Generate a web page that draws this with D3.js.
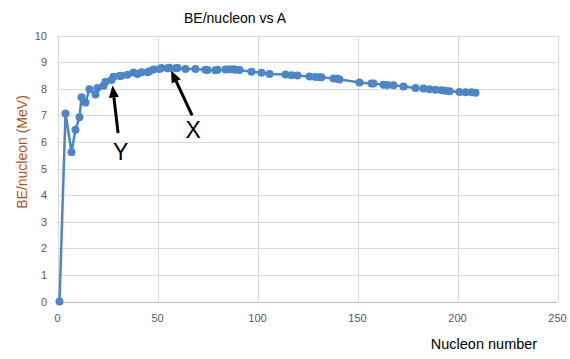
<!DOCTYPE html>
<html>
<head>
<meta charset="utf-8">
<script src="https://cdn.jsdelivr.net/npm/d3@7"></script>
<style>
	body { margin: 0; background: #fff; }
	text { font-family: "Liberation Sans", Arial, sans-serif; }
</style>
</head>
<body>
<div id="chart"></div>
<script>
"use strict";

// nucleon number A and binding energy per nucleon (MeV)
var nucleons = [1,4,7,9,11,12,14,16,19,20,23,24,27,28,31,32,35,38,40,42,45,46,48,51,52,55,56,59,60,64,
	69,74,75,79,80,84,86,88,89,91,97,102,106,114,117,120,126,129,131,132,138,140,141,151,157,158,163,165,168,173,
	179,183,186,189,192,194,196,201,204,207,209];
var bePerNucleon = [0,7.07,5.61,6.46,6.93,7.68,7.48,7.98,7.78,8.03,8.11,8.26,8.33,8.45,8.48,8.49,8.52,8.61,8.55,8.62,
	8.62,8.66,8.72,8.74,8.78,8.77,8.79,8.77,8.78,8.74,8.74,8.71,8.70,8.69,8.71,8.72,8.73,8.73,8.71,8.70,
	8.64,8.60,8.55,8.53,8.51,8.50,8.46,8.44,8.43,8.43,8.38,8.37,8.35,8.23,8.20,8.20,8.15,8.14,8.13,8.08,
	8.03,8.01,7.98,7.96,7.94,7.92,7.90,7.88,7.87,7.87,7.85];
var xTicks = [0,50,100,150,200,250];
var yTicks = [0,1,2,3,4,5,6,7,8,9,10];

// annotation arrows, in data units: [tailA, tailBE, tipA, tipBE]
var arrowX = [67.3, 7.0, 56.8, 8.68];
var arrowY = [30.3, 6.33, 27.5, 8.12];
var labelX = [67.8, 6.45];
var labelY = [31.6, 5.62];

var width = 570, height = 359;
var svg = d3.select("#chart").append("svg")
	.attr("width", width).attr("height", height);

var x = d3.scaleLinear().domain([0, 250]).range([57.5, 557.5]);
var y = d3.scaleLinear().domain([0, 10]).range([301.5, 35.5]);

// grid
svg.append("g").selectAll("line").data(yTicks).enter().append("line")
	.attr("x1", x(0)).attr("x2", x(250))
	.attr("y1", function(d) { return Math.round(y(d)) + 0.5; })
	.attr("y2", function(d) { return Math.round(y(d)) + 0.5; })
	.attr("stroke", function(d) { return d === 0 ? "#bfbfbf" : "#d9d9d9"; })
	.attr("stroke-width", 1);
svg.append("g").selectAll("line").data(xTicks).enter().append("line")
	.attr("y1", y(0)).attr("y2", y(10))
	.attr("x1", function(d) { return Math.round(x(d)) + 0.5; })
	.attr("x2", function(d) { return Math.round(x(d)) + 0.5; })
	.attr("stroke", "#d9d9d9").attr("stroke-width", 1);

// tick labels
svg.append("g").selectAll("text").data(yTicks).enter().append("text")
	.attr("x", 47).attr("y", function(d) { return y(d) + 4; })
	.attr("text-anchor", "end").attr("font-size", "11px").attr("fill", "#595959")
	.text(function(d) { return d; });
svg.append("g").selectAll("text").data(xTicks).enter().append("text")
	.attr("x", function(d) { return x(d); }).attr("y", 322)
	.attr("text-anchor", "middle").attr("font-size", "11px").attr("fill", "#595959")
	.text(function(d) { return d; });

// titles
svg.append("text").attr("x", 235).attr("y", 23).attr("text-anchor", "middle")
	.attr("font-size", "14px").attr("fill", "#000").text("BE/nucleon vs A");
svg.append("text").attr("x", 484).attr("y", 349).attr("text-anchor", "middle")
	.attr("font-size", "14.5px").attr("fill", "#000").text("Nucleon number");
svg.append("text").attr("transform", "translate(27,152) rotate(-90)")
	.attr("text-anchor", "middle").attr("font-size", "14px").attr("fill", "#a8561c")
	.text("BE/nucleon (MeV)");

// series
var pts = nucleons.map(function(a, i) { return [a, bePerNucleon[i]]; });
var color = "#4a86c8";
svg.append("path").datum(pts)
	.attr("fill", "none").attr("stroke", color).attr("stroke-width", 2.5)
	.attr("d", d3.line().x(function(d) { return x(d[0]); }).y(function(d) { return y(d[1]); }));
svg.append("g").selectAll("circle").data(pts).enter().append("circle")
	.attr("cx", function(d) { return x(d[0]); })
	.attr("cy", function(d) { return y(d[1]); })
	.attr("r", 4).attr("fill", color);

// arrows
function drawArrow(a) {
	var x1 = x(a[0]), y1 = y(a[1]), x2 = x(a[2]), y2 = y(a[3]);
	var ang = Math.atan2(y2 - y1, x2 - x1);
	var len = 12, half = 5;
	var bx = x2 - len * Math.cos(ang), by = y2 - len * Math.sin(ang);
	svg.append("line").attr("x1", x1).attr("y1", y1).attr("x2", bx).attr("y2", by)
		.attr("stroke", "#000").attr("stroke-width", 3);
	svg.append("path")
		.attr("d", "M" + x2 + "," + y2 +
			"L" + (bx + half * Math.sin(ang)) + "," + (by - half * Math.cos(ang)) +
			"L" + (bx - half * Math.sin(ang)) + "," + (by + half * Math.cos(ang)) + "Z")
		.attr("fill", "#000");
}
drawArrow(arrowX);
drawArrow(arrowY);

svg.append("text").attr("x", x(labelX[0])).attr("y", y(labelX[1]) + 8)
	.attr("text-anchor", "middle").attr("font-size", "23px").attr("fill", "#000").text("X");
svg.append("text").attr("x", x(labelY[0])).attr("y", y(labelY[1]) + 8)
	.attr("text-anchor", "middle").attr("font-size", "23px").attr("fill", "#000").text("Y");
</script>
</body>
</html>
